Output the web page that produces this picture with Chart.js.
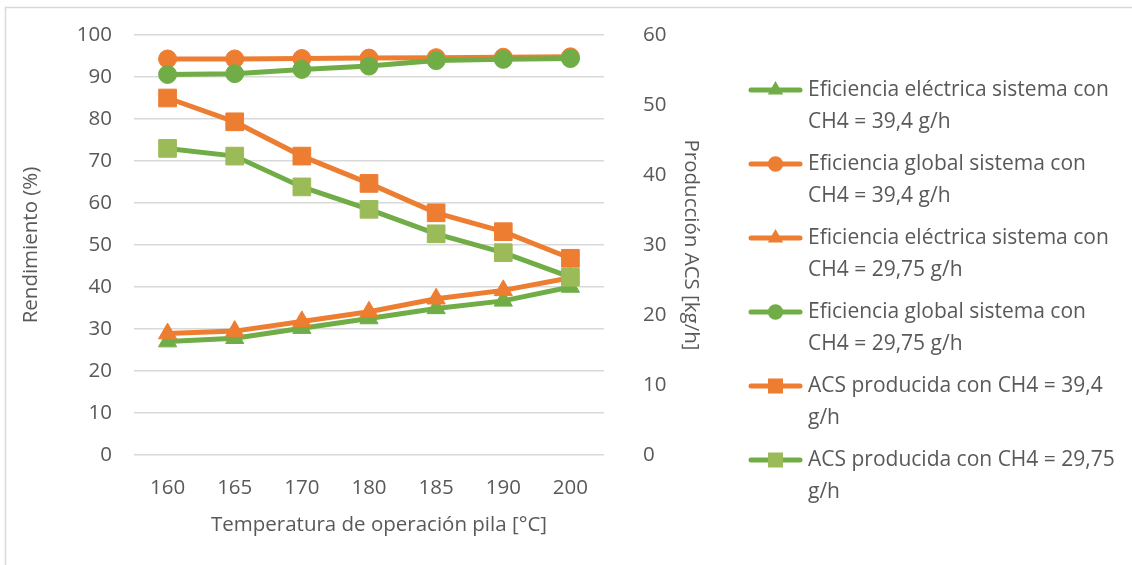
<!DOCTYPE html>
<html>
<head>
<meta charset="utf-8">
<script src="https://cdn.jsdelivr.net/npm/chart.js@4/dist/chart.umd.min.js"></script>
<style>
  html, body { margin: 0; padding: 0; background: #ffffff; }
  #wrap { width: 1132px; height: 565px; position: relative; }
</style>
</head>
<body>
<div id="wrap"><canvas id="c"></canvas></div>
<script>
// Operating temperature of the fuel cell stack [°C]
const temperatures = ['160', '165', '170', '180', '185', '190', '200'];

// Efficiencies (%) – left axis
const efElectrica394  = [27.0, 27.8, 30.2, 32.5, 34.9, 36.7, 40.0];
const efGlobal394     = [94.3, 94.3, 94.4, 94.5, 94.6, 94.7, 94.8];
const efElectrica2975 = [28.9, 29.5, 31.8, 34.1, 37.2, 39.2, 42.2];
const efGlobal2975    = [90.6, 90.8, 91.8, 92.6, 93.9, 94.2, 94.4];

// Domestic hot water production [kg/h] – right axis
const acs394  = [51.0, 47.6, 42.7, 38.8, 34.6, 31.9, 28.1];
const acs2975 = [43.8, 42.7, 38.3, 35.1, 31.6, 28.9, 25.4];

// Axis ticks
const leftTicks  = [0, 10, 20, 30, 40, 50, 60, 70, 80, 90, 100];
const rightTicks = [0, 10, 20, 30, 40, 50, 60];

// Axis titles
const xTitle = 'Temperatura de operación pila [°C]';
const yTitle = 'Rendimiento (%)';
const y1Title = 'Producción ACS [kg/h]';

// Legend labels, one entry per series, split into lines
const legendLabels = [
  ['Eficiencia eléctrica sistema con', 'CH4 = 39,4 g/h'],
  ['Eficiencia global sistema con', 'CH4 = 39,4 g/h'],
  ['Eficiencia eléctrica sistema con', 'CH4 = 29,75 g/h'],
  ['Eficiencia global sistema con', 'CH4 = 29,75 g/h'],
  ['ACS producida con CH4 = 39,4', 'g/h'],
  ['ACS producida con CH4 = 29,75', 'g/h']
];

const ORANGE = '#ED7D31';
const GREEN = '#70AD47';
const LIGHT_GREEN = '#9BBB59';
const TEXT = '#595959';
const GRID = '#D9D9D9';
const NONE = 'rgba(0,0,0,0)';
const FONT = '"Open Sans", "Noto Sans", sans-serif';
const FONT_SIZE = 20.5;

const seriesDefs = [
  { data: efElectrica394,  axis: 'y',  line: GREEN,  fill: GREEN,       style: 'triangle' },
  { data: efGlobal394,     axis: 'y',  line: ORANGE, fill: ORANGE,      style: 'circle' },
  { data: efElectrica2975, axis: 'y',  line: ORANGE, fill: ORANGE,      style: 'triangle' },
  { data: efGlobal2975,    axis: 'y',  line: GREEN,  fill: GREEN,       style: 'circle' },
  { data: acs394,          axis: 'y1', line: ORANGE, fill: ORANGE,      style: 'rect' },
  { data: acs2975,         axis: 'y1', line: GREEN,  fill: LIGHT_GREEN, style: 'rect' }
];

const radiusFor = { triangle: 10.5, circle: 9, rect: 12.5 };

const datasets = seriesDefs.map((s, i) => ({
  label: legendLabels[i].join(' '),
  data: s.data,
  yAxisID: s.axis,
  borderColor: s.line,
  backgroundColor: s.fill,
  borderWidth: 5,
  pointStyle: s.style,
  pointRadius: radiusFor[s.style],
  pointBackgroundColor: s.fill,
  pointBorderColor: s.fill,
  pointBorderWidth: 1,
  tension: 0,
  fill: false,
  // later series are painted above earlier ones
  order: seriesDefs.length - i
}));

// Marker painter for the legend
function paintMarker(ctx, style, x, y, r, color) {
  ctx.beginPath();
  if (style === 'circle') {
    ctx.arc(x, y, r, 0, Math.PI * 2);
  } else if (style === 'rect') {
    const h = r * Math.SQRT1_2;
    ctx.rect(x - h, y - h, 2 * h, 2 * h);
  } else {
    let a = 0;
    ctx.moveTo(x + Math.sin(a) * r, y - Math.cos(a) * r);
    a += 2 * Math.PI / 3;
    ctx.lineTo(x + Math.sin(a) * r, y - Math.cos(a) * r);
    a += 2 * Math.PI / 3;
    ctx.lineTo(x + Math.sin(a) * r, y - Math.cos(a) * r);
    ctx.closePath();
  }
  ctx.fillStyle = color;
  ctx.fill();
}

const frame = {
  id: 'frame',
  beforeDraw(chart) {
    const ctx = chart.ctx;
    ctx.save();
    ctx.fillStyle = '#ffffff';
    ctx.fillRect(0, 0, chart.width, chart.height);
    ctx.strokeStyle = GRID;
    ctx.lineWidth = 1.5;
    ctx.beginPath();
    ctx.moveTo(5.5, chart.height);
    ctx.lineTo(5.5, 7.5);
    ctx.lineTo(chart.width, 7.5);
    ctx.stroke();
    ctx.restore();
  }
};

// Category axis title, centred under the plot a little right of the axis middle
const xAxisTitle = {
  id: 'xAxisTitle',
  afterDraw(chart) {
    const ctx = chart.ctx;
    ctx.save();
    ctx.font = FONT_SIZE + 'px ' + FONT;
    ctx.fillStyle = TEXT;
    ctx.textAlign = 'center';
    ctx.textBaseline = 'middle';
    const a = chart.chartArea;
    ctx.fillText(xTitle, (a.left + a.right) / 2 + 10, a.bottom + 70);
    ctx.restore();
  }
};

const sideLegend = {
  id: 'sideLegend',
  afterDraw(chart) {
    const ctx = chart.ctx;
    ctx.save();
    ctx.font = '21px ' + FONT;
    ctx.textBaseline = 'middle';
    ctx.textAlign = 'left';
    seriesDefs.forEach((s, i) => {
      const y0 = 90 + i * 74;
      ctx.strokeStyle = s.line;
      ctx.lineWidth = 5;
      ctx.lineCap = 'round';
      ctx.beginPath();
      ctx.moveTo(751, y0);
      ctx.lineTo(800, y0);
      ctx.stroke();
      paintMarker(ctx, s.style, 775.5, y0, radiusFor[s.style] * 0.85, s.fill);
      ctx.fillStyle = TEXT;
      legendLabels[i].forEach((line, k) => {
        ctx.fillText(line, 808, y0 + k * 32);
      });
    });
    ctx.restore();
  }
};

const axisFont = { family: FONT, size: FONT_SIZE };

new Chart(document.getElementById('c'), {
  type: 'line',
  data: { labels: temperatures, datasets },
  plugins: [frame, xAxisTitle, sideLegend],
  options: {
    responsive: true,
    maintainAspectRatio: false,
    animation: false,
    events: [],
    layout: { padding: { top: 35, left: 0, right: 408, bottom: 0 } },
    plugins: { legend: { display: false }, tooltip: { enabled: false } },
    scales: {
      x: {
        offset: true,
        grid: { display: false, drawTicks: false },
        border: { display: false },
        ticks: { color: TEXT, font: axisFont, padding: 21, maxRotation: 0 },
        afterFit(scale) { scale.height = 110; }
      },
      y: {
        position: 'left',
        min: 0, max: 100,
        afterBuildTicks(scale) { scale.ticks = leftTicks.map(v => ({ value: v })); },
        grid: { color: GRID, lineWidth: 1.5, drawTicks: true, tickLength: 20, tickColor: NONE },
        border: { display: false },
        ticks: { color: TEXT, font: axisFont, padding: 2 },
        title: {
          display: true, text: yTitle,
          color: TEXT, font: axisFont,
          padding: { top: 19, bottom: 0 }
        },
        afterFit(scale) { scale.width = 134; }
      },
      y1: {
        position: 'right',
        min: 0, max: 60,
        afterBuildTicks(scale) { scale.ticks = rightTicks.map(v => ({ value: v })); },
        grid: { display: true, drawOnChartArea: false, drawTicks: true, tickLength: 37, color: NONE, tickColor: NONE },
        border: { display: false },
        ticks: { color: TEXT, font: axisFont, padding: 2 },
        title: {
          display: true, text: y1Title,
          color: TEXT, font: axisFont,
          padding: { top: 21, bottom: 0 }
        },
        afterFit(scale) { scale.width = 120; }
      }
    }
  }
});
</script>
</body>
</html>
